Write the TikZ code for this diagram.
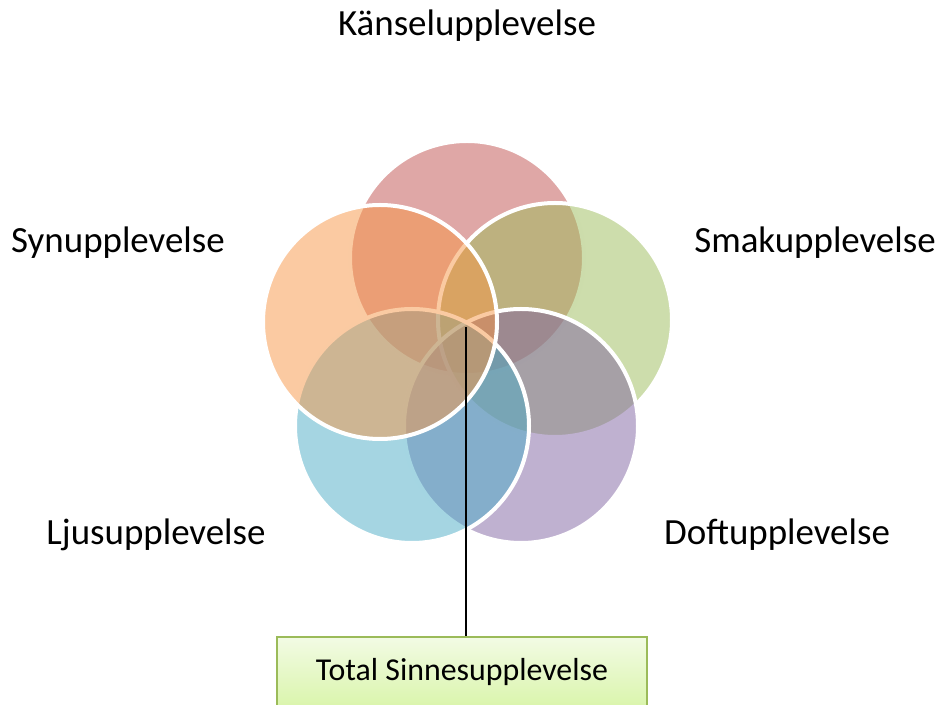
\documentclass[tikz,border=0pt]{standalone}
\usepackage{fontspec}
\setmainfont{Carlito}
\usepackage{xcolor}
\usetikzlibrary{positioning}

\definecolor{kanselred}{HTML}{C0504D}
\definecolor{smakgreen}{HTML}{9BBB59}
\definecolor{doftpurple}{HTML}{8064A2}
\definecolor{ljusblue}{HTML}{4BACC6}
\definecolor{synorange}{HTML}{F79646}

\begin{document}
\begin{tikzpicture}[
    x=0.75pt, y=-0.75pt,
    sense/.style={circle, draw=white, line width=3pt, fill opacity=0.5, minimum size=175.5pt, inner sep=0pt},
    senselabel/.style={anchor=base, inner sep=0pt, font=\fontsize{27.7}{32}\selectfont},
    totalbox/.style={rectangle, draw=smakgreen, line width=1.5pt, top color={rgb,255:red,242;green,251;blue,228}, bottom color={rgb,255:red,218;green,245;blue,172}, minimum width=277.5pt, minimum height=52.5pt, font=\fontsize{23.9}{28}\selectfont}
]
    \useasboundingbox (0,0) rectangle (940,705);

    \node[sense, fill=kanselred] (kansel) at (467,258) {};
    \node[sense, fill=smakgreen] (smak) at (555,320) {};
    \node[sense, fill=doftpurple] (doft) at (521,426) {};
    \node[sense, fill=ljusblue] (ljus) at (412,426) {};
    \node[sense, fill=synorange] (syn) at (380,322) {};

    \node[senselabel] (kansellabel) at (467,36) {Känselupplevelse};
    \node[senselabel] (synlabel) at (118,253) {Synupplevelse};
    \node[senselabel] (smaklabel) at (815,253) {Smakupplevelse};
    \node[senselabel] (ljuslabel) at (156,545) {Ljusupplevelse};
    \node[senselabel] (doftlabel) at (777,545) {Doftupplevelse};

    \node[totalbox] (total) at (462,672) {Total Sinnesupplevelse};
    \coordinate (hub) at (466,327);

    % Line
    \draw[line width=1.5pt] (hub) -- (hub |- total.north);
\end{tikzpicture}
\end{document}
